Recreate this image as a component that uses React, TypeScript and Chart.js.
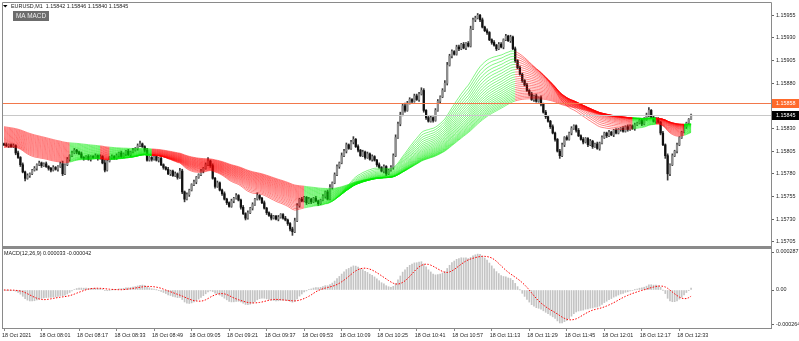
import React, { useEffect, useRef } from "react";
import { Chart, registerables } from "chart.js";
Chart.register(...registerables);

// ---------- data (prices as 1e-5 offsets from 1.15000) ----------
const BASE = 1.15;
const PIP = 0.00001;

const closes = [
  812, 811, 812, 810, 811, 803, 798, 790, 782, 775,
  778, 780, 784, 786, 790, 792, 789, 791, 788, 786,
  784, 787, 785, 788, 791, 780, 790, 796, 800, 803,
  806, 804, 802, 798, 797, 799, 796, 799, 798, 800,
  797, 799, 792, 784, 794, 798, 799, 797, 800, 803,
  799, 802, 805, 801, 804, 806, 808, 811, 813, 810,
  806, 795, 798, 796, 799, 795, 797, 790, 787, 785,
  780, 783, 778, 780, 776, 783, 760, 752, 757, 762,
  768, 771, 776, 779, 783, 786, 790, 794, 789, 775,
  766, 770, 762, 758, 752, 748, 744, 750, 753, 756,
  751, 743, 736, 731, 737, 742, 746, 752, 756, 753,
  748, 742, 737, 734, 731, 733, 730, 732, 735, 731,
  729, 725, 719, 716, 728, 745, 752, 750, 754, 748,
  752, 749, 753, 750, 747, 751, 755, 760, 752, 765,
  770, 779, 788, 792, 800, 805, 812, 808, 815, 818,
  810, 806, 800, 804, 798, 802, 796, 799, 795, 790,
  787, 783, 788, 780, 784, 787, 800, 820, 835, 845,
  855, 850, 858, 862, 860, 866, 862, 868, 872, 850,
  842, 838, 842, 839, 850, 860, 865, 872, 880, 900,
  910, 915, 912, 920, 918, 923, 919, 924, 921, 940,
  950, 952, 955, 950, 942, 938, 936, 928, 925, 922,
  918, 923, 920, 928, 932, 927, 931, 918, 905, 897,
  890, 883, 878, 872, 868, 862, 866, 860, 864, 857,
  848, 843, 838, 832, 825, 818, 805, 800, 812, 820,
  818, 825, 830, 833, 828, 822, 818, 815, 819, 812,
  816, 810, 813, 808, 814, 820, 825, 822, 826, 823,
  828, 825, 829, 830, 827, 832, 829, 833, 830, 834,
  836, 839, 835, 840, 845, 850, 842, 838, 841, 837,
  825, 812, 800, 780, 790, 800, 805, 812, 820, 826,
  832, 836, 840, 845,
];
const firstOpen = 813;

const highWick = [
  1, 2, 1, 1, 2, 1, 2, 1, 2, 1,
  2, 1, 1, 2, 1, 2, 1, 1, 2, 1,
  1, 2, 1, 1, 2, 3, 1, 2, 1, 2,
  2, 1, 1, 2, 1, 1, 2, 1, 1, 2,
  1, 2, 1, 3, 1, 1, 2, 1, 2, 1,
  2, 1, 1, 2, 1, 2, 1, 2, 3, 1,
  1, 2, 1, 1, 2, 1, 1, 2, 1, 1,
  2, 1, 1, 2, 1, 3, 2, 1, 2, 1,
  1, 2, 1, 1, 2, 1, 2, 4, 1, 2,
  1, 2, 1, 1, 2, 1, 1, 2, 1, 2,
  1, 1, 2, 1, 2, 1, 2, 1, 3, 1,
  1, 2, 1, 1, 2, 1, 1, 2, 1, 1,
  2, 1, 1, 2, 3, 2, 1, 2, 1, 1,
  2, 1, 1, 2, 1, 1, 2, 1, 2, 3,
  1, 2, 2, 1, 3, 2, 2, 1, 2, 3,
  1, 2, 1, 2, 1, 2, 1, 2, 1, 1,
  2, 1, 2, 1, 1, 2, 2, 3, 2, 3,
  2, 3, 2, 2, 1, 2, 2, 2, 3, 2,
  1, 2, 2, 1, 2, 2, 1, 2, 3, 3,
  2, 2, 1, 2, 2, 1, 2, 1, 2, 3,
  2, 2, 2, 1, 2, 1, 2, 1, 1, 2,
  1, 2, 2, 1, 2, 1, 2, 1, 2, 1,
  2, 1, 1, 2, 1, 2, 1, 2, 1, 2,
  1, 2, 1, 1, 2, 1, 1, 2, 2, 1,
  2, 1, 2, 1, 1, 2, 1, 2, 1, 1,
  2, 1, 1, 2, 1, 2, 1, 1, 2, 1,
  1, 2, 1, 1, 2, 1, 2, 1, 1, 2,
  1, 2, 1, 2, 2, 3, 1, 2, 1, 1,
  1, 2, 1, 2, 1, 2, 1, 2, 1, 1,
  2, 1, 1, 1,
];
const lowWick = [
  1, 1, 2, 1, 1, 2, 1, 2, 1, 3,
  1, 2, 1, 1, 2, 1, 2, 1, 1, 2,
  2, 1, 1, 2, 1, 2, 1, 1, 2, 1,
  1, 2, 1, 1, 2, 1, 1, 2, 1, 1,
  2, 1, 1, 2, 1, 1, 2, 1, 1, 2,
  1, 1, 2, 1, 2, 1, 1, 2, 1, 1,
  2, 1, 1, 2, 1, 1, 2, 1, 2, 1,
  1, 2, 1, 1, 2, 1, 2, 3, 1, 2,
  1, 1, 2, 1, 1, 2, 1, 1, 2, 1,
  2, 1, 1, 2, 1, 2, 1, 1, 2, 1,
  1, 2, 1, 2, 1, 1, 2, 1, 1, 2,
  1, 1, 2, 1, 2, 1, 1, 2, 1, 1,
  1, 2, 2, 4, 1, 1, 2, 1, 1, 2,
  1, 2, 1, 1, 2, 1, 1, 2, 1, 1,
  2, 1, 1, 2, 1, 1, 2, 1, 1, 2,
  1, 2, 1, 1, 2, 1, 1, 2, 1, 2,
  1, 1, 2, 2, 1, 1, 2, 1, 1, 2,
  1, 2, 1, 1, 2, 1, 1, 2, 1, 2,
  2, 1, 1, 2, 1, 1, 2, 1, 1, 2,
  1, 2, 1, 1, 2, 1, 1, 2, 1, 1,
  1, 2, 1, 2, 1, 1, 2, 1, 2, 1,
  2, 1, 1, 2, 1, 1, 2, 1, 2, 1,
  1, 2, 1, 1, 2, 1, 2, 1, 1, 2,
  1, 2, 1, 2, 1, 2, 1, 3, 1, 2,
  1, 1, 2, 1, 2, 1, 1, 2, 1, 2,
  1, 2, 1, 1, 2, 1, 1, 2, 1, 1,
  2, 1, 1, 2, 1, 1, 2, 1, 1, 2,
  1, 1, 2, 1, 1, 2, 1, 1, 2, 1,
  2, 1, 3, 7, 2, 1, 1, 2, 1, 1,
  1, 2, 1, 0,
];

// MA ribbon: EMA periods and their values at the first visible bar (1e-5 offsets)
const ribbonPeriods = [30, 33, 36, 39, 42, 45, 48, 51, 54, 57, 60, 63, 66, 69, 72, 75, 78, 81, 84, 87, 90, 93, 96, 99];
const ribbonSeeds = [809, 810, 811, 812, 813, 814, 815, 816, 817, 818, 819, 820, 821, 822, 823, 824, 825, 826, 827, 828, 829, 830, 831, 832];
// colour state of the ribbon from a given bar onward
const ribbonColorRuns: [number, string][] = [
  [0, "red"], [29, "green"], [42, "red"], [46, "green"], [64, "red"],
  [129, "green"], [219, "red"], [269, "green"], [279, "red"], [291, "green"],
];

const macdFast = 12;
const macdSlow = 26;
const macdSignal = 9;

const priceTicks = [1.15955, 1.1593, 1.15905, 1.1588, 1.1583, 1.15805, 1.1578, 1.15755, 1.1573, 1.15705];
const macdTicks = [0.000287, 0, -0.000264];
const macdTickLabels = ["0.000287", "0.00", "-0.000264"];
const timeTickLabels = [
  "18 Oct 2021", "18 Oct 08:01", "18 Oct 08:17", "18 Oct 08:33", "18 Oct 08:49",
  "18 Oct 09:05", "18 Oct 09:21", "18 Oct 09:37", "18 Oct 09:53", "18 Oct 10:09",
  "18 Oct 10:25", "18 Oct 10:41", "18 Oct 10:57", "18 Oct 11:13", "18 Oct 11:29",
  "18 Oct 11:45", "18 Oct 12:01", "18 Oct 12:17", "18 Oct 12:33",
];
const barsPerTimeTick = 16;

const titleText = "EURUSD,M1  1.15842 1.15846 1.15840 1.15845";
const indicatorName = "MA MACD";
const macdTitle = "MACD(12,26,9) 0.000033 -0.000042";
const orangeLevel = 1.15858;
const bidLevel = 1.15845;

// ---------- derived ----------
const P = (v: number) => BASE + v * PIP;
const N = closes.length;
const opens = closes.map((c, i) => (i === 0 ? firstOpen : closes[i - 1]));
const highs = closes.map((c, i) => Math.max(opens[i], c) + highWick[i]);
const lows = closes.map((c, i) => Math.min(opens[i], c) - lowWick[i]);

function ema(period: number, seed: number) {
  const a = 2 / (period + 1);
  const out: number[] = [];
  let e = seed;
  for (let i = 0; i < N; i++) {
    if (i > 0) e = e + a * (closes[i] - e);
    out.push(e);
  }
  return out;
}
const ribbons = ribbonPeriods.map((p, k) => ema(p, ribbonSeeds[k]));
const emaF = ema(macdFast, closes[0]);
const emaS = ema(macdSlow, closes[0]);
const macdMain = emaF.map((v, i) => (v - emaS[i]) * PIP);
const macdSig = macdMain.map((_, i) => {
  const from = Math.max(0, i - macdSignal + 1);
  let s = 0;
  for (let j = from; j <= i; j++) s += macdMain[j];
  return s / (i - from + 1);
});

const RED = "rgba(255,0,0,0.62)";
const GREEN = "rgba(0,235,0,0.62)";
function ribbonColor(i: number) {
  let c = ribbonColorRuns[0][1];
  for (const [start, col] of ribbonColorRuns) if (i >= start) c = col;
  return c === "red" ? RED : GREEN;
}

// ---------- layout ----------
const W = 799;
const PLOT_L = 3;
const PLOT_R = 771;
const BAR_W = 2.345;
const FIRST_BAR_X = 4;
const X_MIN = -(FIRST_BAR_X - PLOT_L) / BAR_W;
const X_MAX = X_MIN + (PLOT_R - PLOT_L) / BAR_W;
const Y_MAX = 1.1596858;
const Y_MIN = 1.1570025;
const M_MAX = 0.00030966;
const M_MIN = -0.000287;
const FONT = '"Liberation Sans", Arial, sans-serif';
const SMALL = 5.4;
const FRAME = "#8a8a8a";

Chart.defaults.font.family = FONT;

const fitRight = (s: any) => {
  s.width = W - PLOT_R;
  s.paddingTop = 0;
  s.paddingBottom = 0;
};

export default function App() {
  const topRef = useRef<HTMLCanvasElement>(null);
  const botRef = useRef<HTMLCanvasElement>(null);

  useEffect(() => {
    const frameTop = {
      id: "frameTop",
      afterDatasetsDraw(chart: any) {
        const { ctx, chartArea, scales } = chart;
        ctx.save();
        const yb = Math.round(scales.y.getPixelForValue(bidLevel)) + 0.5;
        ctx.strokeStyle = "#c8c8c8";
        ctx.lineWidth = 1;
        ctx.beginPath();
        ctx.moveTo(chartArea.left, yb);
        ctx.lineTo(chartArea.right, yb);
        ctx.stroke();
        const yo = Math.round(scales.y.getPixelForValue(orangeLevel)) + 0.5;
        ctx.strokeStyle = "#f2784b";
        ctx.beginPath();
        ctx.moveTo(chartArea.left, yo);
        ctx.lineTo(chartArea.right, yo);
        ctx.stroke();
        ctx.restore();
      },
      afterDraw(chart: any) {
        const { ctx, chartArea, scales } = chart;
        ctx.save();
        ctx.strokeStyle = FRAME;
        ctx.lineWidth = 1;
        ctx.beginPath();
        ctx.moveTo(chartArea.left - 0.5, chart.height);
        ctx.lineTo(chartArea.left - 0.5, chartArea.top - 0.5);
        ctx.lineTo(chartArea.right + 0.5, chartArea.top - 0.5);
        ctx.lineTo(chartArea.right + 0.5, chart.height);
        ctx.stroke();
        ctx.fillStyle = FRAME;
        ctx.fillRect(chartArea.left - 1, chartArea.bottom, chartArea.right - chartArea.left + 2, 2);
        const boxes = [
          { v: orangeLevel, bg: "#ff6a2b", fg: "#ffffff" },
          { v: bidLevel, bg: "#000000", fg: "#ffffff" },
        ];
        ctx.font = `${SMALL}px ${FONT}`;
        ctx.textBaseline = "middle";
        for (const b of boxes) {
          const y = scales.y.getPixelForValue(b.v);
          ctx.fillStyle = b.bg;
          ctx.fillRect(chartArea.right + 1, Math.round(y) - 4, W - chartArea.right - 1, 9);
          ctx.fillStyle = b.fg;
          ctx.fillText(b.v.toFixed(5), chartArea.right + 5, Math.round(y) + 0.5);
        }
        ctx.fillStyle = "#000";
        ctx.beginPath();
        ctx.moveTo(3, 5);
        ctx.lineTo(7.5, 5);
        ctx.lineTo(5.25, 7.6);
        ctx.closePath();
        ctx.fill();
        ctx.fillStyle = "#1a1a1a";
        ctx.textAlign = "left";
        ctx.fillText(titleText, 11, 6.5);
        ctx.fillStyle = "#6c6c6c";
        ctx.fillRect(13, 11, 36, 10);
        ctx.fillStyle = "#eeeeee";
        ctx.font = `6.4px ${FONT}`;
        ctx.textAlign = "center";
        ctx.fillText(indicatorName, 31, 16.3);
        ctx.restore();
      },
    };

    const ribbonDatasets = ribbons.map((line) => ({
      type: "line",
      data: line.map((v, i) => ({ x: i, y: P(v) })),
      borderColor: RED,
      borderWidth: 0.8,
      pointRadius: 0,
      tension: 0,
      order: 0,
      segment: { borderColor: (ctx: any) => ribbonColor(ctx.p1DataIndex) },
    }));

    const wickDs = {
      type: "bar",
      data: closes.map((_, i) => ({ x: i, y: [P(lows[i]), P(highs[i])] })),
      backgroundColor: "#3a3a3a",
      barThickness: 1,
      grouped: false,
      borderWidth: 0,
      order: 2,
    };
    const bodyDs = {
      type: "bar",
      data: closes.map((c, i) => ({ x: i, y: [P(opens[i]), P(c)] })),
      backgroundColor: closes.map((c, i) => (c >= opens[i] ? "#8e8e8e" : "#111111")),
      barThickness: 1.6,
      minBarLength: 1,
      grouped: false,
      borderWidth: 0,
      order: 1,
    };

    const c1 = new Chart(topRef.current as HTMLCanvasElement, {
      type: "bar",
      data: { datasets: [...ribbonDatasets, bodyDs, wickDs] as any },
      options: {
        responsive: false,
        animation: false,
        devicePixelRatio: 1,
        events: [],
        layout: { padding: { left: PLOT_L, top: 3, right: 0, bottom: 2 } },
        plugins: { legend: { display: false }, tooltip: { enabled: false }, title: { display: false } },
        scales: {
          x: { type: "linear", min: X_MIN, max: X_MAX, bounds: "data", offset: false, display: false, grid: { offset: false } },
          y: {
            type: "linear",
            position: "right",
            min: Y_MIN,
            max: Y_MAX,
            bounds: "data",
            afterFit: fitRight,
            afterBuildTicks: (s: any) => { s.ticks = priceTicks.map((v) => ({ value: v })); },
            ticks: { autoSkip: false, padding: 2, color: "#1e1e1e", font: { size: SMALL }, callback: (v: any) => Number(v).toFixed(5) },
            grid: { drawOnChartArea: false, tickLength: 3, tickColor: "#666" },
            border: { display: false },
          },
        },
      } as any,
      plugins: [frameTop],
    });

    const frameBot = {
      id: "frameBot",
      afterDraw(chart: any) {
        const { ctx, chartArea } = chart;
        ctx.save();
        ctx.strokeStyle = FRAME;
        ctx.lineWidth = 1;
        ctx.strokeRect(chartArea.left - 0.5, 0.5, chartArea.right - chartArea.left + 1, chartArea.bottom);
        ctx.fillStyle = "#1a1a1a";
        ctx.font = `${SMALL}px ${FONT}`;
        ctx.textBaseline = "middle";
        ctx.textAlign = "left";
        ctx.fillText(macdTitle, 4, 5.5);
        ctx.restore();
      },
    };

    const c2 = new Chart(botRef.current as HTMLCanvasElement, {
      type: "bar",
      data: {
        datasets: [
          {
            type: "line",
            data: macdSig.map((v, i) => ({ x: i, y: v })),
            borderColor: "#ff0000",
            borderWidth: 1,
            borderDash: [1.5, 1.5],
            pointRadius: 0,
            tension: 0,
            order: 0,
          },
          {
            type: "bar",
            data: macdMain.map((v, i) => ({ x: i, y: v })),
            backgroundColor: "#c4c4c4",
            barThickness: 1,
            grouped: false,
            borderWidth: 0,
            order: 1,
          },
        ] as any,
      },
      options: {
        responsive: false,
        animation: false,
        devicePixelRatio: 1,
        events: [],
        layout: { padding: { left: PLOT_L, top: 1, right: 0, bottom: 0 } },
        plugins: { legend: { display: false }, tooltip: { enabled: false }, title: { display: false } },
        scales: {
          x: {
            type: "linear",
            min: X_MIN,
            max: X_MAX,
            bounds: "data",
            offset: false,
            position: "bottom",
            afterFit: (s: any) => { s.height = 13; s.paddingLeft = 0; s.paddingRight = 0; },
            afterBuildTicks: (s: any) => { s.ticks = timeTickLabels.map((_, k) => ({ value: k * barsPerTimeTick })); },
            ticks: {
              autoSkip: false,
              maxRotation: 0,
              minRotation: 0,
              align: "start",
              labelOffset: -2,
              padding: 1,
              color: "#1e1e1e",
              font: { size: SMALL },
              callback: (v: any) => timeTickLabels[Math.round(Number(v) / barsPerTimeTick)] ?? "",
            },
            grid: { drawOnChartArea: false, offset: false, tickLength: 3, tickColor: "#888" },
            border: { display: false },
          },
          y: {
            type: "linear",
            position: "right",
            min: M_MIN,
            max: M_MAX,
            bounds: "data",
            afterFit: fitRight,
            afterBuildTicks: (s: any) => { s.ticks = macdTicks.map((v) => ({ value: v })); },
            ticks: {
              autoSkip: false,
              padding: 2,
              color: "#1e1e1e",
              font: { size: SMALL },
              callback: (v: any) => {
                const k = macdTicks.findIndex((t) => Math.abs(t - Number(v)) < 1e-9);
                return k >= 0 ? macdTickLabels[k] : "";
              },
            },
            grid: { drawOnChartArea: false, tickLength: 3, tickColor: "#666" },
            border: { display: false },
          },
        },
      } as any,
      plugins: [frameBot],
    });

    return () => {
      c1.destroy();
      c2.destroy();
    };
  }, []);

  return (
    <div style={{ position: "absolute", left: 0, top: 0, width: W, height: 341, background: "#ffffff", overflow: "hidden" }}>
      <canvas ref={topRef} width={W} height={248} style={{ position: "absolute", left: 0, top: 0, width: W, height: 248 }} />
      <canvas ref={botRef} width={W} height={93} style={{ position: "absolute", left: 0, top: 248, width: W, height: 93 }} />
    </div>
  );
}
